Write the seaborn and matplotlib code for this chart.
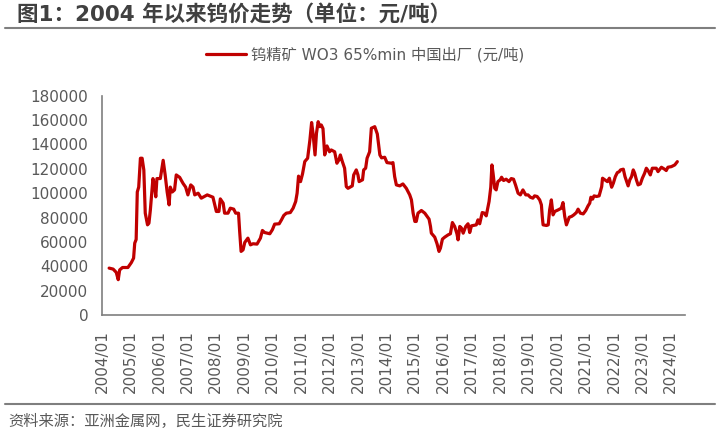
import matplotlib
matplotlib.use("Agg")
import matplotlib.pyplot as plt
from matplotlib.lines import Line2D
import pandas as pd
import seaborn as sns

# 钨精矿价格（元/吨），按十进制年份读取
years = [
    2004.25, 2004.39, 2004.50, 2004.57, 2004.62, 2004.72, 2004.91, 2005.03, 2005.11, 2005.15,
    2005.20, 2005.24, 2005.29, 2005.35, 2005.41, 2005.47, 2005.52, 2005.60, 2005.65, 2005.70,
    2005.79, 2005.84, 2005.89, 2005.93, 2006.05, 2006.15, 2006.22, 2006.29, 2006.36, 2006.40,
    2006.47, 2006.55, 2006.61, 2006.73, 2006.85, 2006.94, 2007.02, 2007.12, 2007.20, 2007.26,
    2007.38, 2007.49, 2007.70, 2007.90, 2008.02, 2008.11, 2008.16, 2008.26, 2008.31, 2008.43,
    2008.51, 2008.63, 2008.70, 2008.80, 2008.84, 2008.89, 2008.96, 2009.02, 2009.13, 2009.22,
    2009.31, 2009.45, 2009.57, 2009.64, 2009.72, 2009.90, 2009.99, 2010.07, 2010.23, 2010.31,
    2010.39, 2010.48, 2010.62, 2010.72, 2010.81, 2010.86, 2010.91, 2010.98, 2011.05, 2011.13,
    2011.23, 2011.31, 2011.37, 2011.42, 2011.49, 2011.54, 2011.60, 2011.66, 2011.71, 2011.77,
    2011.83, 2011.91, 2012.00, 2012.06, 2012.18, 2012.26, 2012.33, 2012.38, 2012.45, 2012.53,
    2012.59, 2012.65, 2012.80, 2012.85, 2012.94, 2013.00, 2013.04, 2013.16, 2013.20, 2013.27,
    2013.32, 2013.41, 2013.47, 2013.59, 2013.68, 2013.77, 2013.83, 2013.94, 2014.02, 2014.18,
    2014.23, 2014.29, 2014.35, 2014.47, 2014.58, 2014.70, 2014.82, 2014.88, 2014.94, 2015.00,
    2015.05, 2015.11, 2015.23, 2015.35, 2015.50, 2015.55, 2015.58, 2015.70, 2015.78, 2015.85,
    2015.90, 2015.97, 2016.05, 2016.17, 2016.25, 2016.32, 2016.40, 2016.48, 2016.52, 2016.58,
    2016.64, 2016.70, 2016.79, 2016.87, 2016.93, 2016.99, 2017.16, 2017.22, 2017.28, 2017.37,
    2017.45, 2017.51, 2017.61, 2017.67, 2017.71, 2017.75, 2017.81, 2017.86, 2017.92, 2018.00,
    2018.05, 2018.12, 2018.21, 2018.31, 2018.39, 2018.47, 2018.54, 2018.63, 2018.71, 2018.80,
    2018.90, 2018.98, 2019.06, 2019.15, 2019.21, 2019.30, 2019.39, 2019.45, 2019.48, 2019.51,
    2019.63, 2019.69, 2019.74, 2019.80, 2019.86, 2019.92, 2020.04, 2020.15, 2020.21, 2020.27,
    2020.33, 2020.43, 2020.51, 2020.59, 2020.68, 2020.74, 2020.82, 2020.92, 2021.01, 2021.09,
    2021.15, 2021.19, 2021.25, 2021.30, 2021.39, 2021.48, 2021.57, 2021.60, 2021.68, 2021.77,
    2021.84, 2021.92, 2021.98, 2022.05, 2022.12, 2022.19, 2022.23, 2022.33, 2022.39, 2022.47,
    2022.50, 2022.56, 2022.62, 2022.68, 2022.73, 2022.79, 2022.85, 2022.93, 2023.00, 2023.08,
    2023.14, 2023.20, 2023.28, 2023.35, 2023.49, 2023.55, 2023.67, 2023.78, 2023.84, 2023.90,
    2024.02, 2024.14, 2024.23,
]
prices = [
    38500, 37700, 35000, 29000, 37000, 39000, 39000, 43000, 46700, 59000,
    62000, 101000, 105000, 128700, 128700, 119000, 83600, 74000, 75400, 86300,
    112000, 107000, 97000, 112000, 112000, 127000, 115000, 101000, 90400, 105000,
    101000, 102700, 115000, 113000, 108000, 105000, 98600, 106800, 105000, 98600,
    100000, 95900, 98600, 96700, 85000, 85000, 95300, 91800, 83600, 83600,
    87700, 86900, 83600, 83600, 68600, 52200, 53500, 59600, 63100, 57600,
    58500, 58200, 63100, 69400, 67700, 66700, 70000, 74600, 74900, 78100,
    81700, 83600, 84100, 87700, 93200, 100000, 114000, 109500, 115800, 126000,
    128700, 143700, 158000, 149000, 131400, 149000, 158700, 154600, 156000, 153000,
    131400, 138800, 134000, 135500, 134000, 124600, 127300, 131400, 126000, 120500,
    105400, 104000, 106000, 115000, 119100, 115000, 109500, 111000, 119100, 120500,
    128700, 134000, 153300, 154600, 148600, 131400, 129000, 129500, 125100, 124600,
    125100, 113600, 106800, 106000, 107600, 104000, 98600, 94500, 83600, 76800,
    76800, 83600, 85800, 83600, 78700, 72700, 67200, 63900, 58500, 52200,
    54900, 62300, 63900, 65800, 66700, 75900, 72700, 66700, 61700, 72700,
    71300, 67200, 72700, 74900, 67700, 73200, 74000, 78100, 74900, 84100,
    83600, 81400, 93200, 104900, 123200, 116400, 104000, 102700, 109500, 111000,
    113100, 110400, 111500, 109500, 112000, 111500, 106800, 100000, 98600, 102700,
    98600, 98600, 96700, 95900, 97800, 97300, 94500, 90400, 80900, 74000,
    73500, 74000, 86300, 94500, 82200, 85000, 86300, 87700, 92300, 80900,
    74000, 80300, 80900, 82200, 84100, 86900, 83600, 83000, 85800, 89600,
    91800, 96700, 95100, 97800, 97300, 97800, 105400, 112300, 111000, 109500,
    112300, 104900, 108200, 113600, 116900, 117700, 119100, 119700, 113600, 108200,
    106000, 111000, 113600, 119100, 116400, 111000, 106800, 107600, 112300, 116400,
    120500, 118600, 115000, 120500, 120500, 117700, 121300, 119700, 118600, 121300,
    121800, 123200, 125900,
]
tick_years = list(range(2004, 2025))
tick_labels = [f"{y}/01" for y in tick_years]
y_ticks = list(range(0, 180001, 20000))

series_name = "钨精矿 WO3 65%min 中国出厂 (元/吨)"
df = pd.DataFrame({"year": years, "price": prices})

sns.set_theme(style="white")
plt.rcParams["font.family"] = ["DejaVu Sans", "Noto Sans CJK SC"]

fig = plt.figure(figsize=(7.2, 4.32), dpi=100)
ax = fig.add_axes([0.1417, 0.2708, 0.8097, 0.5076])

sns.lineplot(data=df, x="year", y="price", color="#C00000", linewidth=2.3, ax=ax, label=series_name)

ax.set_xlim(2004.0, 2024.5)
ax.set_ylim(0, 180000)
ax.set_xticks(tick_years)
ax.set_xticklabels(tick_labels, rotation=90)
ax.set_yticks(y_ticks)
ax.set_yticklabels([str(v) for v in y_ticks])
ax.set_xlabel("")
ax.set_ylabel("")

for side in ["top", "right"]:
    ax.spines[side].set_visible(False)
for side in ["left", "bottom"]:
    ax.spines[side].set_color("#7f7f7f")
    ax.spines[side].set_linewidth(1.2)

ax.tick_params(axis="both", direction="in", length=4, width=1, color="#7f7f7f",
               labelsize=11, labelcolor="#595959")
ax.tick_params(axis="y", pad=10)
ax.tick_params(axis="x", pad=11)

ax.legend(loc="center", bbox_to_anchor=(0.507, 0.873), bbox_transform=fig.transFigure,
          frameon=False, fontsize=11, handlelength=2.6, handletextpad=0.3,
          labelcolor="#595959")

# 标题、分隔线和资料来源
fig.text(0.024, 0.968, "图1：2004 年以来钨价走势（单位：元/吨）", fontsize=15.5,
         fontweight="bold", color="#404040", va="center", ha="left")
fig.add_artist(Line2D([0.007, 0.993], [0.935, 0.935], transform=fig.transFigure,
                      color="#7f7f7f", linewidth=1.5))
fig.add_artist(Line2D([0.007, 0.993], [0.065, 0.065], transform=fig.transFigure,
                      color="#7f7f7f", linewidth=1.5))
fig.text(0.011, 0.024, "资料来源：亚洲金属网，民生证券研究院", fontsize=11,
         color="#595959", va="center", ha="left")

fig.savefig("out.png", dpi=100)
